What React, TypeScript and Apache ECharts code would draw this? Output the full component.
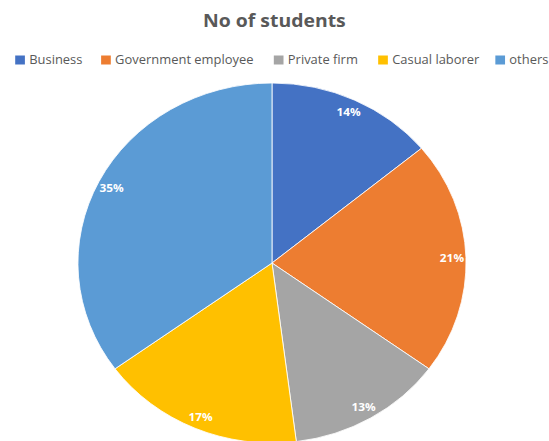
import React, { useEffect, useRef } from "react";
import * as echarts from "echarts";

const categories = ["Business", "Government employee", "Private firm", "Casual laborer", "others"];
const shares = [14, 21, 13, 17, 35];
const colors = ["#4472C4", "#ED7D31", "#A5A5A5", "#FFC000", "#5B9BD5"];
const legendLeft = [12.1, 91.8, 252, 348.8, 457.5];

const STRETCH = 1.078;
const W = 549 / STRETCH;
const H = 441;

export default function App() {
  const ref = useRef<HTMLDivElement>(null);
  useEffect(() => {
    if (!ref.current) return;
    const chart = echarts.init(ref.current, undefined, { renderer: "svg" });
    const data = categories.map((name, i) => ({ name, value: shares[i] }));
    chart.setOption({
      animation: false,
      backgroundColor: "#ffffff",
      color: colors,
      title: {
        text: "No of students",
        left: "center",
        top: 11,
        padding: 0,
        textStyle: { fontFamily: "Open Sans", fontSize: 18, fontWeight: "bold", color: "#595959" },
      },
      legend: categories.map((name, i) => ({
        data: [name],
        left: legendLeft[i],
        top: 53.5,
        padding: 0,
        itemWidth: 11,
        itemHeight: 11,
        itemGap: 3,
        icon: "rect",
        textStyle: { fontFamily: "Open Sans", fontSize: 12, color: "#595959", padding: [0, 0, 0, -2] },
        selectedMode: false,
      })),
      series: [
        {
          type: "pie",
          center: [272 / STRETCH, 263],
          radius: [0, 180],
          startAngle: 90,
          clockwise: true,
          data,
          itemStyle: { borderColor: "#ffffff", borderWidth: 0.8 },
          label: { show: false },
          labelLine: { show: false },
          emphasis: { disabled: true },
        },
        {
          type: "pie",
          center: [272 / STRETCH, 263],
          radius: [148, 180],
          startAngle: 90,
          clockwise: true,
          silent: true,
          legendHoverLink: false,
          data,
          percentPrecision: 0,
          itemStyle: { color: "rgba(0,0,0,0)" },
          label: {
            show: true,
            position: "inside",
            formatter: "{d}%",
            color: "#ffffff",
            fontFamily: "Open Sans",
            fontWeight: "bold",
            fontSize: 11,
          },
          labelLine: { show: false },
          emphasis: { disabled: true },
        },
      ],
    });
    return () => chart.dispose();
  }, []);
  return (
    <div
      ref={ref}
      style={{
        position: "fixed",
        left: 0,
        top: 0,
        width: W,
        height: H,
        transform: `scaleX(${STRETCH})`,
        transformOrigin: "0 0",
      }}
    />
  );
}
